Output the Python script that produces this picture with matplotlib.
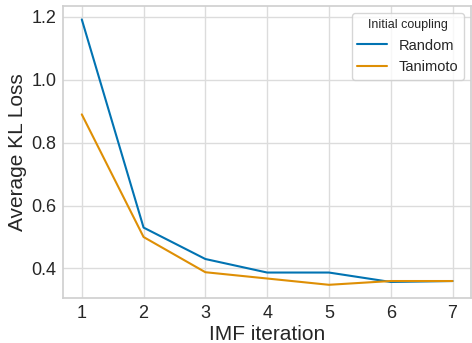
import matplotlib
matplotlib.use("Agg")
import matplotlib.pyplot as plt
import seaborn as sns

# Données
iterations = [1, 2, 3, 4, 5, 6, 7]
random_loss = [1.192, 0.530, 0.430, 0.387, 0.387, 0.357, 0.360]
tanimoto_loss = [0.890, 0.500, 0.388, 0.368, 0.348, 0.360, 0.360]

sns.set_theme(style="whitegrid", palette="colorblind")
plt.rcParams['font.family'] = ['Liberation Sans', 'DejaVu Sans']
plt.rcParams['grid.color'] = '#dcdcdc'
plt.rcParams['axes.edgecolor'] = '#d0d0d0'

fig, ax = plt.subplots(figsize=(4.72, 3.43), dpi=100)
ax.plot(iterations, random_loss, label="Random", linewidth=1.5)
ax.plot(iterations, tanimoto_loss, label="Tanimoto", linewidth=1.5)

ax.set_xlabel("IMF iteration", fontsize=15, labelpad=2)
ax.set_ylabel("Average KL Loss", fontsize=15, labelpad=3)
ax.tick_params(axis='both', labelsize=13, length=0, pad=5)
ax.set_xticks(iterations)
ax.set_yticks([0.4, 0.6, 0.8, 1.0, 1.2])

leg = ax.legend(title="Initial coupling", fontsize=10.5, title_fontsize=9,
                loc="upper right", borderaxespad=0.5, handlelength=2.0)

fig.subplots_adjust(left=0.134, right=0.998, top=0.982, bottom=0.131)
fig.savefig("out.png", dpi=100)
